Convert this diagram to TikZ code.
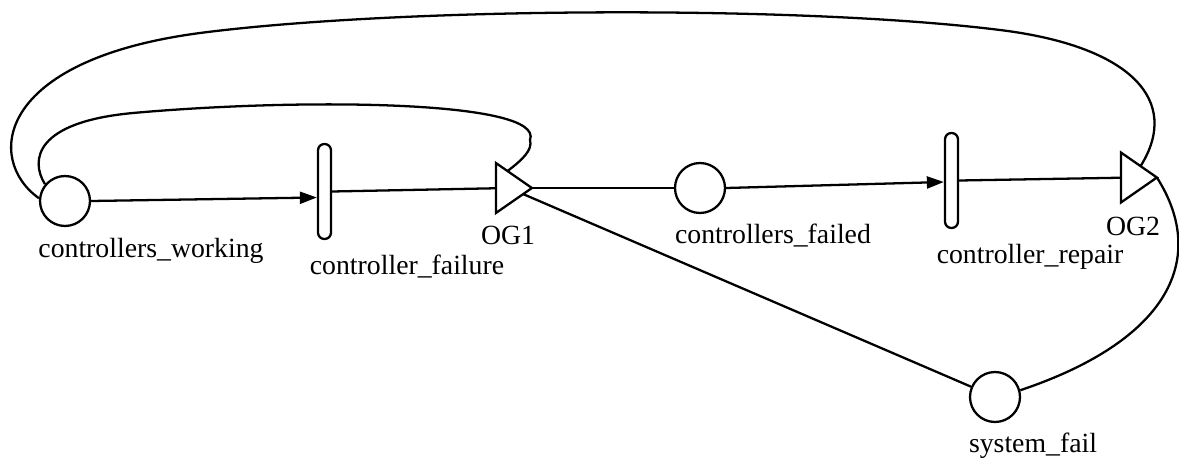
\documentclass[tikz,border=0pt]{standalone}
\usepackage{fontspec}
\setmainfont{Liberation Serif}
\usetikzlibrary{shapes.geometric,arrows.meta}

\begin{document}
\begin{tikzpicture}[x=0.02cm, y=-0.02cm, line width=1.3pt,
    place/.style={draw, circle, minimum size=1cm, inner sep=0},
    trans/.style={draw, rounded corners=3.6pt, minimum width=0.26cm, minimum height=1.9cm, inner sep=0},
    gate/.style={draw, isosceles triangle, isosceles triangle stretches, minimum height=0.72cm, minimum width=1.0cm, inner sep=0, outer sep=0},
    lab/.style={anchor=base, font=\fontsize{15.8}{19}\selectfont},
    arc/.style={-{Triangle[length=0.34cm, width=0.24cm]}}]
    \useasboundingbox (0,0) rectangle (1179,466);
    % places, transitions and gates
    \node[place] (cw) at (65,201) {};
    \node[trans] (cf) at (324.5,191.5) {};
    \node[gate] (og1) at (509,188) {};
    \node[place] (cfl) at (700,188) {};
    \node[trans] (cr) at (951.5,180.5) {};
    \node[gate] (og2) at (1134,177.5) {};
    \node[place] (sf) at (995,397) {};
    % names
    \node[lab] (cw-lab) at (151,257) {controllers\_working};
    \node[lab] (cf-lab) at (407,274) {controller\_failure};
    \node[lab] (og1-lab) at (508,244) {OG1};
    \node[lab] (cfl-lab) at (773,243) {controllers\_failed};
    \node[lab] (cr-lab) at (1030,263) {controller\_repair};
    \node[lab] (og2-lab) at (1133,235) {OG2};
    \node[lab] (sf-lab) at (1033,452) {system\_fail};
    % arcs
    \draw[arc] (cw.east) -- ([yshift=-0.12cm]cf.west);
    \draw (cf.east) -- (og1);
    \draw (og1.apex) -- (cfl);
    \draw[arc] (cfl.east) -- ([yshift=-0.03cm]cr.west);
    \draw (cr.east) -- (og2);
    \draw (og1) -- (sf);
    \draw (sf.15) .. controls (1170,340) and (1208,258) .. (og2.apex);
    % feedback loops into controllers_working
    \draw (cw.140) .. controls (30,160) and (35,122) .. (133,113)
        .. controls (300,98) and (545,100) .. (530,140)
        .. controls (533,150) and (522,160) .. (og1.95);
    \draw (cw.174) .. controls (-15,160) and (-5,60) .. (200,33)
        .. controls (400,7) and (800,5) .. (1000,30)
        .. controls (1130,46) and (1182,100) .. (og2.60);
\end{tikzpicture}
\end{document}
